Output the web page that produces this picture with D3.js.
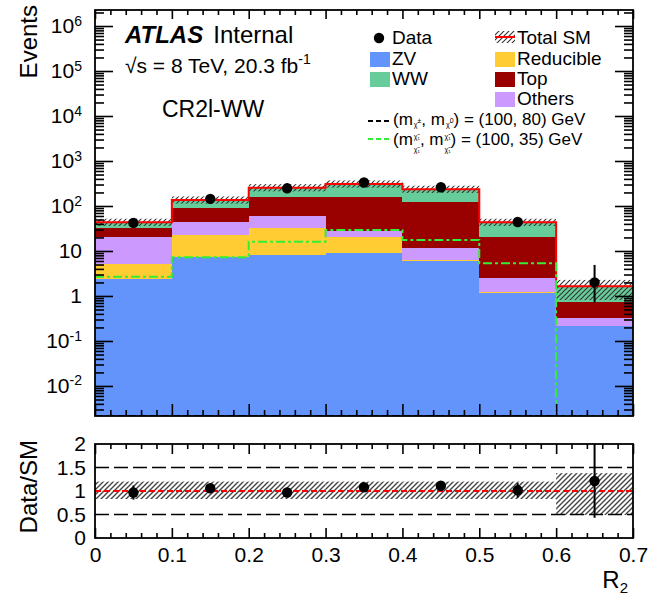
<!DOCTYPE html>
<html><head><meta charset="utf-8">
<script src="https://cdn.jsdelivr.net/npm/d3@7"></script>
<style>
body{margin:0;background:#fff}
svg text{font-family:"Liberation Sans",Arial,Helvetica,sans-serif;fill:#000}
</style></head><body>
<svg id="c" width="652" height="596"></svg>
<script>
// Histogram bins in R2
const binEdges = [0, 0.1, 0.2, 0.3, 0.4, 0.5, 0.6, 0.7];
// Stacked backgrounds, bottom to top
const zv        = [2.4, 7.4, 8.2, 9.2, 6.1, 1.18, 0.215];
const reducible = [2.75, 15.3, 24.2, 10.9, 0.22, 0.05, 0];
const others    = [15.4, 21.4, 27.6, 8.2, 5.2, 1.24, 0.105];
const topBkg    = [11.9, 46, 98, 133, 113.5, 17.6, 0.43];
const ww        = [11.0, 46, 97, 147, 110, 23.3, 0.9];
// Observed events and their asymmetric errors
const dataCounts = [42, 144, 247, 333, 261, 44, 2];
const dataErrLo  = [6.5, 12, 15.7, 18.2, 16.2, 6.6, 1.29];
const dataErrHi  = [6.5, 12, 15.7, 18.2, 16.2, 6.6, 2.9];
// Relative uncertainty on the total SM prediction
const bkgErrLo = [0.17, 0.17, 0.17, 0.17, 0.17, 0.17, 0.51];
const bkgErrHi = [0.2, 0.2, 0.2, 0.2, 0.2, 0.2, 0.38];
// Signal benchmarks
const sig100_80 = [0, 0, 0, 0, 0, 0, 0];
const sig100_35 = [2.69, 7.24, 16.1, 29.3, 17.6, 5.33, 0];
// Tick values
const yMajorTicks = [1e-2, 1e-1, 1, 10, 1e2, 1e3, 1e4, 1e5, 1e6];
const ratioTicks = [0, 0.5, 1, 1.5, 2];
const xMajorTicks = [0, 0.1, 0.2, 0.3, 0.4, 0.5, 0.6, 0.7];

const colors = {zv:"#6394fc", reducible:"#ffcc33", others:"#cc99ff", top:"#990000", ww:"#66cc99"};

const svg = d3.select("#c");
const L = 95, R = 633, T = 10, B = 416;
const RT = 444, RB = 538;

const x = d3.scaleLinear([0, 0.7], [L, R]);
const y = d3.scaleLog([0.00215, 2.27e6], [B, T]).clamp(true);
const yr = d3.scaleLinear([0, 2], [RB, RT]);

const defs = svg.append("defs");
function hatch(id, color, w) {
  defs.append("pattern").attr("id", id).attr("patternUnits", "userSpaceOnUse")
    .attr("width", 5).attr("height", 5)
    .append("path").attr("d", "M-1,1 l2,-2 M0,5 l5,-5 M4,6 l2,-2")
    .attr("stroke", color).attr("stroke-width", w);
}
hatch("hatchMain", "#333", 1.1);
hatch("hatchRatio", "#444", 1.4);
defs.append("clipPath").attr("id", "clipMain").append("rect")
  .attr("x", L).attr("y", T).attr("width", R - L).attr("height", B - T);
defs.append("clipPath").attr("id", "clipRatio").append("rect")
  .attr("x", L).attr("y", RT).attr("width", R - L).attr("height", RB - RT);

// Build the per-bin table for stacking
const keys = ["zv", "reducible", "others", "top", "ww"];
const rows = binEdges.slice(0, -1).map((lo, i) => ({
  lo, hi: binEdges[i + 1],
  zv: zv[i], reducible: reducible[i], others: others[i], top: topBkg[i], ww: ww[i]
}));
const stacked = d3.stack().keys(keys)(rows);
const totals = rows.map(r => keys.reduce((s, k) => s + r[k], 0));
const yMin = y.domain()[0];

const main = svg.append("g").attr("clip-path", "url(#clipMain)");

// Stacked background bins
stacked.forEach(layer => {
  main.append("g").attr("shape-rendering", "crispEdges")
    .selectAll("rect").data(layer).join("rect")
    .attr("x", d => x(d.data.lo))
    .attr("width", d => x(d.data.hi) - x(d.data.lo) + 0.6)
    .attr("y", d => y(Math.max(d[1], yMin)))
    .attr("height", d => Math.max(0, y(Math.max(d[0], yMin)) - y(Math.max(d[1], yMin))))
    .attr("fill", colors[layer.key]);
});

// Uncertainty band on total SM
main.append("g").selectAll("rect").data(rows).join("rect")
  .attr("x", d => x(d.lo))
  .attr("width", d => x(d.hi) - x(d.lo))
  .attr("y", (d, i) => y(totals[i] * (1 + bkgErrHi[i])))
  .attr("height", (d, i) => y(totals[i] * (1 - bkgErrLo[i])) - y(totals[i] * (1 + bkgErrHi[i])))
  .attr("fill", "url(#hatchMain)");

// Step outline helper
function stepPoints(vals) {
  const pts = vals.map((v, i) => [binEdges[i], Math.max(v, yMin)]);
  pts.push([binEdges[binEdges.length - 1], Math.max(vals[vals.length - 1], yMin)]);
  return pts;
}
const stepLine = d3.line().x(d => x(d[0])).y(d => y(d[1])).curve(d3.curveStepAfter);

main.append("path").attr("d", stepLine(stepPoints(totals)))
  .attr("fill", "none").attr("stroke", "#ff0000").attr("stroke-width", 2);

main.append("path").attr("d", stepLine(stepPoints(sig100_80)))
  .attr("fill", "none").attr("stroke", "#000").attr("stroke-width", 2)
  .attr("stroke-dasharray", "8,3");
main.append("path").attr("d", stepLine(stepPoints(sig100_35)))
  .attr("fill", "none").attr("stroke", "#33ee33").attr("stroke-width", 2)
  .attr("stroke-dasharray", "9,3,3,3");

// Data points
const centers = rows.map(r => (r.lo + r.hi) / 2);
const dataG = main.append("g");
dataG.selectAll("line").data(dataCounts).join("line")
  .attr("x1", (d, i) => x(centers[i])).attr("x2", (d, i) => x(centers[i]))
  .attr("y1", (d, i) => y(d + dataErrHi[i])).attr("y2", (d, i) => y(d - dataErrLo[i]))
  .attr("stroke", "#000").attr("stroke-width", 2);
dataG.selectAll("circle").data(dataCounts).join("circle")
  .attr("cx", (d, i) => x(centers[i])).attr("cy", d => y(d)).attr("r", 5.2).attr("fill", "#000");

// Minor log ticks
const yMinor = [];
for (let e = -3; e <= 6; e++) for (let k = 2; k <= 9; k++) {
  const v = k * Math.pow(10, e);
  if (v >= y.domain()[0] && v <= y.domain()[1]) yMinor.push(v);
}
const xMinor = d3.range(0, 71, 2).map(v => v / 100).filter(v => Math.round(v * 100) % 10 !== 0);

function noDomain(g) { g.select(".domain").remove(); g.selectAll("line").attr("stroke-width", 1.6); }

function supLabel(v) {
  const e = Math.round(Math.log10(v));
  return e === 0 ? "1" : e === 1 ? "10" : "10^" + e;
}

// Main panel axes
const gl = svg.append("g").attr("transform", `translate(${L},0)`)
  .call(d3.axisLeft(y).tickValues(yMajorTicks).tickSizeInner(-18).tickSizeOuter(0).tickPadding(13).tickFormat(supLabel))
  .call(noDomain);
gl.selectAll("text").attr("font-size", 21).attr("font-family", "Liberation Sans, Arial, sans-serif")
  .each(function () {
    const t = d3.select(this); const s = t.text();
    if (s.includes("^")) {
      const [b, e] = s.split("^");
      t.text(b);
      t.append("tspan").attr("font-size", 14).attr("dy", "-0.55em").text(e);
    }
  });
svg.append("g").attr("transform", `translate(${L},0)`)
  .call(d3.axisLeft(y).tickValues(yMinor).tickSizeInner(-9).tickSizeOuter(0).tickFormat("")).call(noDomain);
svg.append("g").attr("transform", `translate(${R},0)`)
  .call(d3.axisRight(y).tickValues(yMajorTicks).tickSizeInner(-18).tickSizeOuter(0).tickFormat("")).call(noDomain);
svg.append("g").attr("transform", `translate(${R},0)`)
  .call(d3.axisRight(y).tickValues(yMinor).tickSizeInner(-9).tickSizeOuter(0).tickFormat("")).call(noDomain);
svg.append("g").attr("transform", `translate(0,${B})`)
  .call(d3.axisBottom(x).tickValues(xMajorTicks).tickSizeInner(-12).tickSizeOuter(0).tickFormat("")).call(noDomain);
svg.append("g").attr("transform", `translate(0,${B})`)
  .call(d3.axisBottom(x).tickValues(xMinor).tickSizeInner(-6).tickSizeOuter(0).tickFormat("")).call(noDomain);
svg.append("g").attr("transform", `translate(0,${T})`)
  .call(d3.axisTop(x).tickValues(xMajorTicks).tickSizeInner(-9).tickSizeOuter(0).tickFormat("")).call(noDomain);
svg.append("g").attr("transform", `translate(0,${T})`)
  .call(d3.axisTop(x).tickValues(xMinor).tickSizeInner(-5).tickSizeOuter(0).tickFormat("")).call(noDomain);
svg.append("rect").attr("x", L).attr("y", T).attr("width", R - L).attr("height", B - T)
  .attr("fill", "none").attr("stroke", "#000").attr("stroke-width", 1.8);

// Ratio panel
const ratio = svg.append("g").attr("clip-path", "url(#clipRatio)");
ratio.append("g").selectAll("rect").data(rows).join("rect")
  .attr("x", d => x(d.lo)).attr("width", d => x(d.hi) - x(d.lo))
  .attr("y", (d, i) => yr(1 + bkgErrHi[i]))
  .attr("height", (d, i) => yr(1 - bkgErrLo[i]) - yr(1 + bkgErrHi[i]))
  .attr("fill", "url(#hatchRatio)");
[0.5, 1.5].forEach(v => ratio.append("line")
  .attr("x1", L).attr("x2", R).attr("y1", yr(v)).attr("y2", yr(v))
  .attr("stroke", "#000").attr("stroke-width", 1.6).attr("stroke-dasharray", "14,5"));
ratio.append("line").attr("x1", L).attr("x2", R).attr("y1", yr(1)).attr("y2", yr(1))
  .attr("stroke", "#ff0000").attr("stroke-width", 2).attr("stroke-dasharray", "6,3");
const ratioVals = dataCounts.map((d, i) => d / totals[i]);
ratio.append("g").selectAll("line").data(ratioVals).join("line")
  .attr("x1", (d, i) => x(centers[i])).attr("x2", (d, i) => x(centers[i]))
  .attr("y1", (d, i) => yr(d + dataErrHi[i] / totals[i]))
  .attr("y2", (d, i) => yr(d - dataErrLo[i] / totals[i]))
  .attr("stroke", "#000").attr("stroke-width", 2);
ratio.append("g").selectAll("circle").data(ratioVals).join("circle")
  .attr("cx", (d, i) => x(centers[i])).attr("cy", d => yr(d)).attr("r", 5.2).attr("fill", "#000");

const rl = svg.append("g").attr("transform", `translate(${L},0)`)
  .call(d3.axisLeft(yr).tickValues(ratioTicks).tickSizeInner(0).tickSizeOuter(0).tickPadding(9).tickFormat(d3.format("")))
  .call(noDomain);
rl.selectAll("text").attr("font-size", 21).attr("font-family", "Liberation Sans, Arial, sans-serif");
const rb = svg.append("g").attr("transform", `translate(0,${RB})`)
  .call(d3.axisBottom(x).tickValues(xMajorTicks).tickSizeInner(-10).tickSizeOuter(0).tickPadding(9).tickFormat(d3.format("")))
  .call(noDomain);
rb.selectAll("text").attr("font-size", 21).attr("font-family", "Liberation Sans, Arial, sans-serif");
svg.append("g").attr("transform", `translate(0,${RB})`)
  .call(d3.axisBottom(x).tickValues(xMinor).tickSizeInner(-5).tickSizeOuter(0).tickFormat("")).call(noDomain);
svg.append("g").attr("transform", `translate(0,${RT})`)
  .call(d3.axisTop(x).tickValues(xMajorTicks).tickSizeInner(-10).tickSizeOuter(0).tickFormat("")).call(noDomain);
svg.append("g").attr("transform", `translate(0,${RT})`)
  .call(d3.axisTop(x).tickValues(xMinor).tickSizeInner(-5).tickSizeOuter(0).tickFormat("")).call(noDomain);
svg.append("rect").attr("x", L).attr("y", RT).attr("width", R - L).attr("height", RB - RT)
  .attr("fill", "none").attr("stroke", "#000").attr("stroke-width", 1.8);

// Axis titles
svg.append("text").attr("transform", "translate(37,5) rotate(-90)")
  .attr("text-anchor", "end").attr("font-size", 24).text("Events");
svg.append("text").attr("transform", "translate(37,440) rotate(-90)")
  .attr("text-anchor", "end").attr("font-size", 24).text("Data/SM");
const r2 = svg.append("text").attr("x", 628).attr("y", 588).attr("text-anchor", "end").attr("font-size", 24);
r2.append("tspan").text("R");
r2.append("tspan").attr("font-size", 15).attr("dy", 5).text("2");

// Labels on the main panel
const atl = svg.append("text").attr("x", 125).attr("y", 43).attr("font-size", 24);
atl.append("tspan").attr("font-weight", "bold").attr("font-style", "italic").text("ATLAS");
atl.append("tspan").attr("dx", 10).text("Internal");
const ecm = svg.append("text").attr("x", 125).attr("y", 73).attr("font-size", 21);
ecm.append("tspan").text("\u221As = 8 TeV, 20.3 fb");
ecm.append("tspan").attr("font-size", 14).attr("dy", -9).text("-1");
svg.append("text").attr("x", 162).attr("y", 117).attr("font-size", 23).text("CR2l-WW");

// Legend
const lg = svg.append("g").attr("font-size", 19);
lg.append("circle").attr("cx", 379).attr("cy", 38).attr("r", 5.2).attr("fill", "#000");
lg.append("text").attr("x", 392).attr("y", 44).text("Data");
const boxes = [
  {k: "zv", label: "ZV", bx: 370, by: 52, tx: 392},
  {k: "ww", label: "WW", bx: 370, by: 72, tx: 392},
  {k: "reducible", label: "Reducible", bx: 495, by: 52, tx: 517},
  {k: "top", label: "Top", bx: 495, by: 72, tx: 517},
  {k: "others", label: "Others", bx: 495, by: 92, tx: 517}
];
boxes.forEach(b => {
  lg.append("rect").attr("x", b.bx).attr("y", b.by).attr("width", 20).attr("height", 15).attr("fill", colors[b.k]);
  lg.append("text").attr("x", b.tx).attr("y", b.by + 13).text(b.label);
});
lg.append("rect").attr("x", 495).attr("y", 31).attr("width", 20).attr("height", 12).attr("fill", "url(#hatchMain)");
lg.append("line").attr("x1", 495).attr("x2", 515).attr("y1", 37).attr("y2", 37).attr("stroke", "#ff0000").attr("stroke-width", 2);
lg.append("text").attr("x", 517).attr("y", 44).text("Total SM");

// Text with small raised/lowered pieces; each piece: [text, size, shift, dx, stackUnderPrevious]
function richText(g, x0, y0, parts, size) {
  const t = g.append("text").attr("x", x0).attr("y", y0).attr("font-size", size);
  let prev = 0, last = null;
  parts.forEach(p => {
    const s = t.append("tspan").text(p[0]);
    if (p[1]) s.attr("font-size", p[1]);
    const shift = p[2] || 0;
    if (shift !== prev) s.attr("dy", shift - prev);
    if (p[3]) s.attr("dx", p[3]);
    if (p[4] && last) s.attr("dx", -last.node().getComputedTextLength());
    prev = shift;
    last = s;
  });
}
lg.append("line").attr("x1", 368).attr("x2", 392).attr("y1", 121).attr("y2", 121)
  .attr("stroke", "#000").attr("stroke-width", 2).attr("stroke-dasharray", "5,3");
richText(lg, 393, 125, [
  ["(m"], ["\u03C7\u0303", 7, 2, 1], ["\u00B1", 7, -2],
  [", m", null, 0], ["\u03C7\u0303", 7, 2, 1], ["0", 7, -2],
  [") = (100, 80) GeV", null, 0]
], 17);
lg.append("line").attr("x1", 368).attr("x2", 392).attr("y1", 139).attr("y2", 139)
  .attr("stroke", "#33ee33").attr("stroke-width", 2).attr("stroke-dasharray", "5,3");
richText(lg, 393, 145, [
  ["(m"], ["\u03C7\u0303\u2081", 7, -6, 1], ["\u03C7\u0303\u2081", 7, 7, 0, true],
  [", m", null, 0], ["\u03C7\u0303\u2081", 7, -6, 1], ["\u03C7\u0303\u2081", 7, 7, 0, true],
  [") = (100, 35) GeV", null, 0]
], 17);
</script>
</body></html>
